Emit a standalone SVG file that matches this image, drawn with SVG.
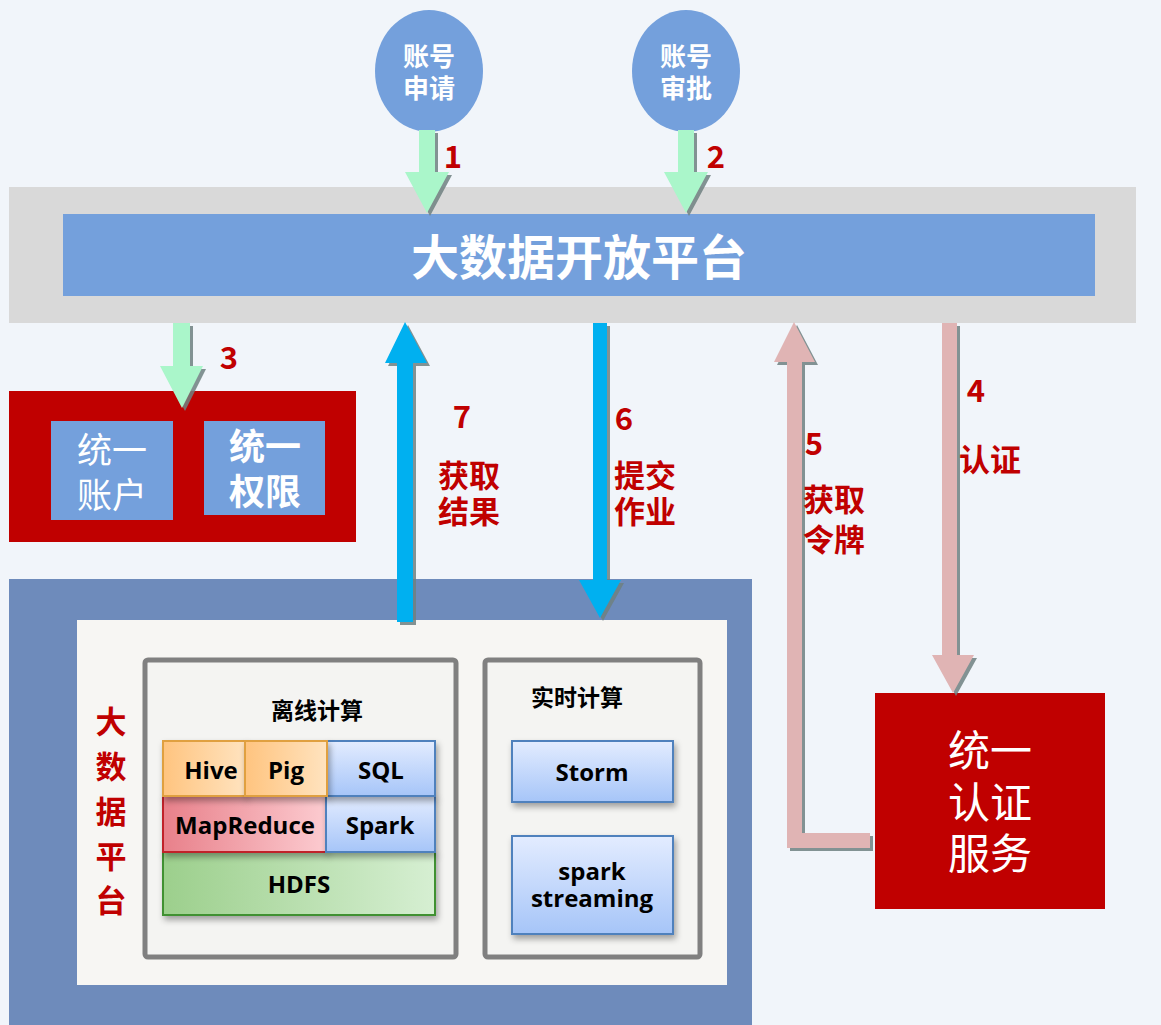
<svg xmlns="http://www.w3.org/2000/svg" width="1161" height="1025" viewBox="0 0 1161 1025">
<defs>
<style>
.cjk{font-family:"Noto Sans CJK SC","Noto Sans",sans-serif;}
.w{fill:#FFFFFF;}
.lbl{font-family:"Noto Sans CJK SC",sans-serif;font-weight:bold;font-size:31px;fill:#C00000;text-anchor:middle;}
.en{font-family:"Open Sans","Noto Sans",sans-serif;font-weight:bold;font-size:24px;fill:#000;text-anchor:middle;}
.sh{fill:#6F8080;opacity:0.85;}
.grn{fill:#AAF6CA;}
.blu{fill:#00B0F0;}
.pnk{fill:#E0B4B4;}
.frame{fill:#F4F4F2;stroke:#808080;stroke-width:5;}
</style>
<linearGradient id="gOr" x1="0" y1="0" x2="1" y2="0"><stop offset="0" stop-color="#FFC47F"/><stop offset="1" stop-color="#FFE3BF"/></linearGradient>
<linearGradient id="gBl" x1="0" y1="0" x2="0" y2="1"><stop offset="0" stop-color="#E3ECFF"/><stop offset="1" stop-color="#A6C5F8"/></linearGradient>
<linearGradient id="gRd" x1="0" y1="0" x2="1" y2="0"><stop offset="0" stop-color="#E8808A"/><stop offset="1" stop-color="#FCCBD0"/></linearGradient>
<linearGradient id="gGr" x1="0" y1="0" x2="1" y2="0"><stop offset="0" stop-color="#9CCF8C"/><stop offset="1" stop-color="#D6EFD2"/></linearGradient>
<filter id="ds" x="-20%" y="-20%" width="140%" height="150%"><feDropShadow dx="2" dy="4" stdDeviation="3" flood-color="#000" flood-opacity="0.35"/></filter>
</defs>

<rect x="0" y="0" width="1161" height="1025" fill="#F1F5FA"/>

<g id="open-platform">
<rect x="9" y="187" width="1127" height="136" fill="#D9D9D9"/>
<rect x="63" y="214" width="1032" height="82" fill="#74A0DC"/>
<text x="579" y="275" class="cjk w" font-size="48" font-weight="bold" text-anchor="middle">大数据开放平台</text>
</g>

<g id="apply">
<ellipse cx="429" cy="71" rx="54" ry="61" fill="#74A0DC"/>
<text class="cjk w" font-size="26" font-weight="bold" text-anchor="middle"><tspan x="429" y="66">账号</tspan><tspan x="429" y="98">申请</tspan></text>
</g>

<g id="approve">
<ellipse cx="686" cy="71" rx="54" ry="61" fill="#74A0DC"/>
<text class="cjk w" font-size="26" font-weight="bold" text-anchor="middle"><tspan x="686" y="66">账号</tspan><tspan x="686" y="98">审批</tspan></text>
</g>

<g id="account-auth">
<rect x="9" y="391" width="347" height="151" fill="#C00000"/>
<rect x="51" y="421" width="122" height="99" fill="#74A0DC"/>
<text class="cjk w" font-size="35" text-anchor="middle"><tspan x="112" y="463">统一</tspan><tspan x="112" y="508">账户</tspan></text>
<rect x="204" y="421" width="121" height="94" fill="#74A0DC"/>
<text class="cjk w" font-size="36" font-weight="bold" text-anchor="middle"><tspan x="265" y="460">统一</tspan><tspan x="265" y="505">权限</tspan></text>
</g>

<g id="auth-service">
<rect x="875" y="693" width="230" height="216" fill="#C00000"/>
<text class="cjk w" font-size="42" text-anchor="middle"><tspan x="990" y="766">统一</tspan><tspan x="990" y="818">认证</tspan><tspan x="990" y="869">服务</tspan></text>
</g>

<g id="bigdata-platform">
<rect x="9" y="579" width="743" height="446" fill="#6E8BBB"/>
<rect x="77" y="620" width="650" height="365" fill="#F7F6F3"/>
<text class="lbl" font-size="38"><tspan x="111" y="733">大</tspan><tspan x="111" y="778">数</tspan><tspan x="111" y="823">据</tspan><tspan x="111" y="868">平</tspan><tspan x="111" y="912">台</tspan></text>
</g>

<g id="offline">
<rect x="145" y="660" width="311" height="297" rx="3" class="frame"/>
<text x="317" y="719" class="cjk" font-size="23" font-weight="bold" text-anchor="middle" fill="#000">离线计算</text>
</g>

<g id="hdfs"><rect x="163" y="852" width="272" height="63" fill="url(#gGr)" stroke="#3F9132" stroke-width="2" filter="url(#ds)"/><text x="299" y="893" class="en">HDFS</text></g>
<g id="mapreduce"><rect x="163" y="796" width="163" height="56" fill="url(#gRd)" stroke="#C0202A" stroke-width="2" filter="url(#ds)"/><text x="245" y="834" class="en">MapReduce</text></g>
<g id="spark"><rect x="326" y="796" width="109" height="56" fill="url(#gBl)" stroke="#4F81BD" stroke-width="2" filter="url(#ds)"/><text x="380" y="834" class="en">Spark</text></g>
<g id="sql"><rect x="327" y="741" width="108" height="55" fill="url(#gBl)" stroke="#4F81BD" stroke-width="2" filter="url(#ds)"/><text x="381" y="779" class="en">SQL</text></g>
<g id="hive"><rect x="163" y="741" width="82" height="55" fill="url(#gOr)" stroke="#E0A040" stroke-width="2" filter="url(#ds)"/><text x="211" y="779" class="en">Hive</text></g>
<g id="pig"><rect x="245" y="741" width="82" height="55" fill="url(#gOr)" stroke="#E0A040" stroke-width="2" filter="url(#ds)"/><text x="286" y="779" class="en">Pig</text></g>

<g id="realtime">
<rect x="485" y="660" width="215" height="297" rx="3" class="frame"/>
<text x="577" y="706" class="cjk" font-size="23" font-weight="bold" text-anchor="middle" fill="#000">实时计算</text>
</g>
<g id="storm"><rect x="512" y="741" width="161" height="61" fill="url(#gBl)" stroke="#4F81BD" stroke-width="2" filter="url(#ds)"/><text x="592" y="781" class="en">Storm</text></g>
<g id="spark-streaming"><rect x="512" y="836" width="161" height="98" fill="url(#gBl)" stroke="#4F81BD" stroke-width="2" filter="url(#ds)"/><text class="en"><tspan x="592" y="880">spark</tspan><tspan x="592" y="907">streaming</tspan></text></g>

<g id="connectors">
<g transform="translate(3,3)">
<polygon class="sh" points="419,130 435,130 435,172 449,172 427,213 405,172 419,172"/>
<polygon class="sh" points="678,130 694,130 694,172 708,172 686,213 664,172 678,172"/>
<polygon class="sh" points="173,323 190,323 190,366 203,366 182,408 160,366 173,366"/>
<polygon class="sh" points="405,322 427,363 413,363 413,622 397,622 397,363 385,363"/>
<polygon class="sh" points="593,323 607,323 607,580 621,580 600,618 579,580 593,580"/>
<polygon class="sh" points="794,322 815,362 802,362 802,833 870,833 870,848 787,848 787,362 774,362"/>
<polygon class="sh" points="942,323 957,323 957,655 974,655 953,693 932,655 942,655"/>
</g>
<polygon class="grn" points="419,130 435,130 435,172 449,172 427,213 405,172 419,172"/>
<polygon class="grn" points="678,130 694,130 694,172 708,172 686,213 664,172 678,172"/>
<polygon class="grn" points="173,323 190,323 190,366 203,366 182,408 160,366 173,366"/>
<polygon class="blu" points="405,322 427,363 413,363 413,622 397,622 397,363 385,363"/>
<polygon class="blu" points="593,323 607,323 607,580 621,580 600,618 579,580 593,580"/>
<polygon class="pnk" points="794,322 815,362 802,362 802,833 870,833 870,848 787,848 787,362 774,362"/>
<polygon class="pnk" points="942,323 957,323 957,655 974,655 953,693 932,655 942,655"/>

<text x="453" y="168" class="lbl">1</text>
<text x="716" y="168" class="lbl">2</text>
<text x="229" y="369" class="lbl">3</text>
<text x="976" y="402" class="lbl">4</text>
<text x="990" y="471" class="lbl">认证</text>
<text x="814" y="455" class="lbl">5</text>
<text class="lbl"><tspan x="834" y="511">获取</tspan><tspan x="834" y="551">令牌</tspan></text>
<text x="624" y="430" class="lbl">6</text>
<text class="lbl"><tspan x="645" y="487">提交</tspan><tspan x="645" y="523">作业</tspan></text>
<text x="462" y="428" class="lbl">7</text>
<text class="lbl"><tspan x="469" y="487">获取</tspan><tspan x="469" y="523">结果</tspan></text>
</g>
</svg>
